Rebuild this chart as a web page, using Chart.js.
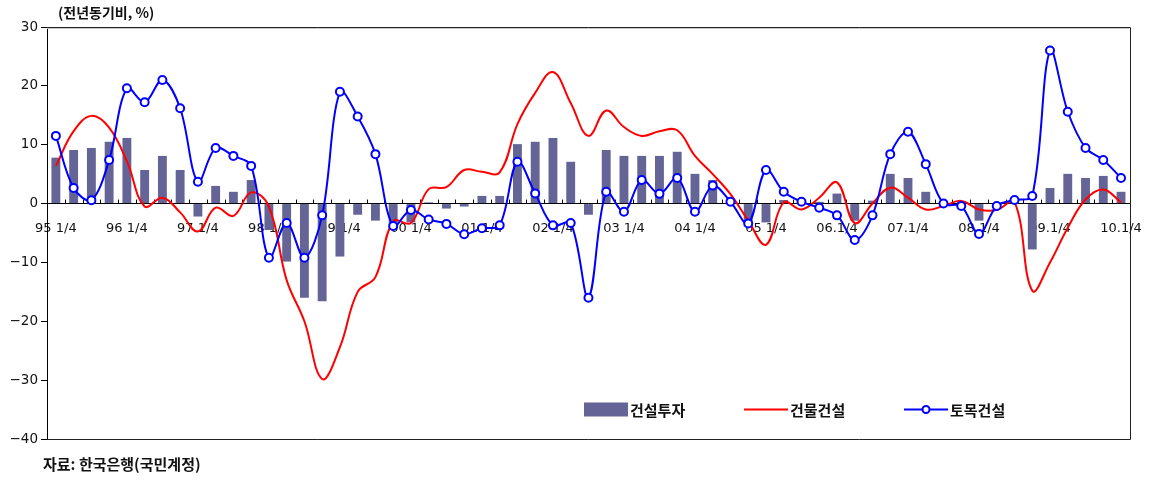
<!DOCTYPE html>
<html><head><meta charset="utf-8">
<script src="https://cdn.jsdelivr.net/npm/chart.js@4.4.0/dist/chart.umd.min.js"></script>
<style>html,body{margin:0;padding:0;background:#fff;}#wrap{width:1159px;height:480px;position:relative;}</style>
</head><body><div id="wrap"><canvas id="c" width="1159" height="480"></canvas></div>
<script>
const categories = [
 '95.1/4','95.2/4','95.3/4','95.4/4','96.1/4','96.2/4','96.3/4','96.4/4',
 '97.1/4','97.2/4','97.3/4','97.4/4','98.1/4','98.2/4','98.3/4','98.4/4',
 '99.1/4','99.2/4','99.3/4','99.4/4','00.1/4','00.2/4','00.3/4','00.4/4',
 '01.1/4','01.2/4','01.3/4','01.4/4','02.1/4','02.2/4','02.3/4','02.4/4',
 '03.1/4','03.2/4','03.3/4','03.4/4','04.1/4','04.2/4','04.3/4','04.4/4',
 '05.1/4','05.2/4','05.3/4','05.4/4','06.1/4','06.2/4','06.3/4','06.4/4',
 '07.1/4','07.2/4','07.3/4','07.4/4','08.1/4','08.2/4','08.3/4','08.4/4',
 '09.1/4','09.2/4','09.3/4','09.4/4','10.1/4'];
const tickLabels = ['95 1/4','96 1/4','97 1/4','98 1/4','99 1/4','00 1/4','01 1/4','02 1/4',
 '03 1/4','04 1/4','05 1/4','06.1/4','07.1/4','08.1/4','09.1/4','10.1/4'];
const seriesNames = ['건설투자','건물건설','토목건설'];
// 건설투자 (bars)
const constructionInvestment = [
 7.8, 9.1, 9.45, 10.5,
 11.15, 5.7, 8.1, 5.7,
 -2.2, 3.0, 2.0, 4.0,
 -4.5, -9.85, -16.0, -16.6,
 -9.0, -1.9, -2.9, -3.4,
 -3.2, 0.2, -0.85, -0.5,
 1.3, 1.3, 10.1, 10.5,
 11.15, 7.1, -1.9, 9.1,
 8.1, 8.1, 8.1, 8.8,
 5.05, 4.0, 0.9, -3.1,
 -3.2, 0.6, 0.2, 0.3,
 1.7, -2.9, 0.5, 5.05,
 4.35, 2.0, 0.2, 0.3,
 -2.9, -0.5, 0.3, -7.8,
 2.65, 5.05, 4.35, 4.7,
 2.0];
// 건물건설 (red line)
const buildingConstruction = [
 6.4, 12.3, 14.9, 12.9,
 7.2, -0.5, 1.0, -1.5,
 -4.75, -0.7, -2.1, 1.9,
 -0.5, -13.0, -20.0, -29.8,
 -24.4, -15.0, -12.5, -3.0,
 -3.3, 2.45, 2.8, 5.7,
 5.4, 5.3, 13.5, 18.8,
 22.35, 17.1, 11.5, 15.8,
 13.0, 11.5, 12.3, 12.45,
 8.1, 5.0, 1.6, -2.9,
 -7.0, 0.2, -1.0, 1.0,
 3.6, -3.3, 0.0, 2.7,
 1.0, -1.0, -0.4, 0.45,
 -1.0, -1.1, 0.3, -14.8,
 -10.0, -4.1, 0.7, 2.4,
 0.2];
// 토목건설 (blue line)
const civilEngineering = [
 11.5, 2.66, 0.57, 7.4,
 19.6, 17.2, 21.0, 16.2,
 3.7, 9.45, 8.1, 6.4,
 -9.2, -3.3, -9.2, -2.0,
 19.0, 14.8, 8.4, -3.8,
 -1.1, -2.7, -3.45, -5.2,
 -4.2, -3.7, 7.1, 1.7,
 -3.7, -3.3, -16.0, 2.0,
 -1.4, 4.0, 1.65, 4.35,
 -1.4, 3.05, 0.3, -3.4,
 5.7, 2.0, 0.3, -0.7,
 -2.0, -6.2, -2.0, 8.4,
 12.2, 6.7, 0.0, -0.4,
 -5.15, -0.4, 0.6, 1.3,
 26.0, 15.6, 9.45, 7.4,
 4.35];
const yTicks = {min: -40, max: 30, step: 10};
const titleText = '(전년동기비, %)';
const sourceText = '자료: 한국은행(국민계정)';

const KR = '"Noto Sans CJK KR", "Noto Sans", sans-serif';
const NUM = '"DejaVu Sans", "Liberation Sans", sans-serif';

const framePlugin = {
  id: 'frame',
  beforeDatasetsDraw(chart) {
    const {ctx, chartArea: a, scales} = chart;
    const xs = scales.x, ys = scales.y;
    const y0 = ys.getPixelForValue(0);
    ctx.save();
    ctx.strokeStyle = '#000';
    ctx.lineWidth = 1;
    ctx.beginPath();
    const n = chart.data.labels.length;
    for (let i = 0; i <= n; i++) {
      let x;
      if (i === 0) x = a.left;
      else if (i === n) x = a.right;
      else x = (xs.getPixelForValue(i - 1) + xs.getPixelForValue(i)) / 2;
      x = Math.round(x) + 0.5;
      ctx.moveTo(x, y0);
      ctx.lineTo(x, y0 - 4);
    }
    ctx.stroke();
    ctx.restore();
  },
  afterDraw(chart) {
    const {ctx, chartArea: a} = chart;
    ctx.save();
    ctx.lineWidth = 1;
    ctx.strokeStyle = '#c8c8c8';
    ctx.beginPath();
    ctx.moveTo(a.left, Math.round(a.top) + 1.5); ctx.lineTo(a.right - 1, Math.round(a.top) + 1.5);
    ctx.stroke();
    ctx.strokeStyle = '#222';
    ctx.beginPath();
    ctx.moveTo(a.left, Math.round(a.top) + 0.5); ctx.lineTo(Math.round(a.right) + 0.5, Math.round(a.top) + 0.5);
    ctx.lineTo(Math.round(a.right) + 0.5, Math.round(a.bottom) + 0.5);
    ctx.lineTo(a.left, Math.round(a.bottom) + 0.5);
    ctx.stroke();
    // title + source
    ctx.fillStyle = '#111';
    ctx.textBaseline = 'middle';
    ctx.textAlign = 'left';
    ctx.font = 'bold 14px ' + KR;
    ctx.fillText(titleText, 58, 13);
    ctx.font = 'bold 15px ' + KR;
    ctx.fillText(sourceText, 43, 464);
    // legend
    const ds = chart.data.datasets;
    const ly = Math.round(a.bottom) - 29.5;
    const itemX = [584, 744, 904];
    const sw = 44;
    ctx.font = 'bold 15px ' + KR;
    ds.forEach((d, i) => {
      const x = itemX[i];
      if (d.type === 'bar') {
        ctx.fillStyle = d.backgroundColor;
        ctx.fillRect(x, ly - 7, sw, 14);
      } else {
        ctx.strokeStyle = d.borderColor;
        ctx.lineWidth = 2;
        ctx.beginPath(); ctx.moveTo(x, ly); ctx.lineTo(x + sw, ly); ctx.stroke();
        if (d.pointRadius > 0) {
          ctx.beginPath(); ctx.arc(x + sw / 2, ly, 3.5, 0, Math.PI * 2);
          ctx.fillStyle = '#fff'; ctx.fill(); ctx.stroke();
        }
      }
      ctx.fillStyle = '#111';
      ctx.fillText(d.label, x + sw + 2, ly + 1);
    });
    ctx.restore();
  }
};

new Chart(document.getElementById('c'), {
  data: {
    labels: categories,
    datasets: [
      {type: 'bar', label: seriesNames[0], data: constructionInvestment,
       backgroundColor: '#646496', barPercentage: 0.5, categoryPercentage: 1.0, order: 3},
      {type: 'line', label: seriesNames[1], data: buildingConstruction,
       borderColor: '#ff0000', borderWidth: 2, pointRadius: 0, tension: 0.4, fill: false, order: 2},
      {type: 'line', label: seriesNames[2], data: civilEngineering,
       borderColor: '#0000ff', borderWidth: 2, pointRadius: 4, pointBorderWidth: 2,
       pointBackgroundColor: '#ffffff', pointBorderColor: '#0000ff', tension: 0.35, fill: false, order: 1}
    ]
  },
  options: {
    responsive: false, animation: false, devicePixelRatio: 1,
    layout: {padding: {left: 0, right: 22, top: 27, bottom: 41}},
    plugins: {legend: {display: false}, tooltip: {enabled: false}},
    scales: {
      x: {
        axis: 'x', type: 'category', offset: true, position: {y: 0},
        grid: {display: true, drawOnChartArea: false, drawTicks: false},
        border: {display: true, color: '#000', width: 1},
        ticks: {autoSkip: false, maxRotation: 0, minRotation: 0, padding: 17, color: '#111',
          font: {family: NUM, size: 13},
          callback: (v, i) => (i % 4 === 0 ? tickLabels[i / 4] : '')}
      },
      y: {
        min: yTicks.min, max: yTicks.max,
        grid: {drawOnChartArea: false, drawTicks: true, tickLength: 6, color: '#000'},
        border: {display: true, color: '#000', width: 1},
        ticks: {stepSize: yTicks.step, padding: 3, color: '#111', font: {family: NUM, size: 13.5},
          callback: v => String(v).replace('-', '−')},
        afterFit: s => { s.width = 47; }
      }
    }
  },
  plugins: [framePlugin]
});
</script></body></html>
